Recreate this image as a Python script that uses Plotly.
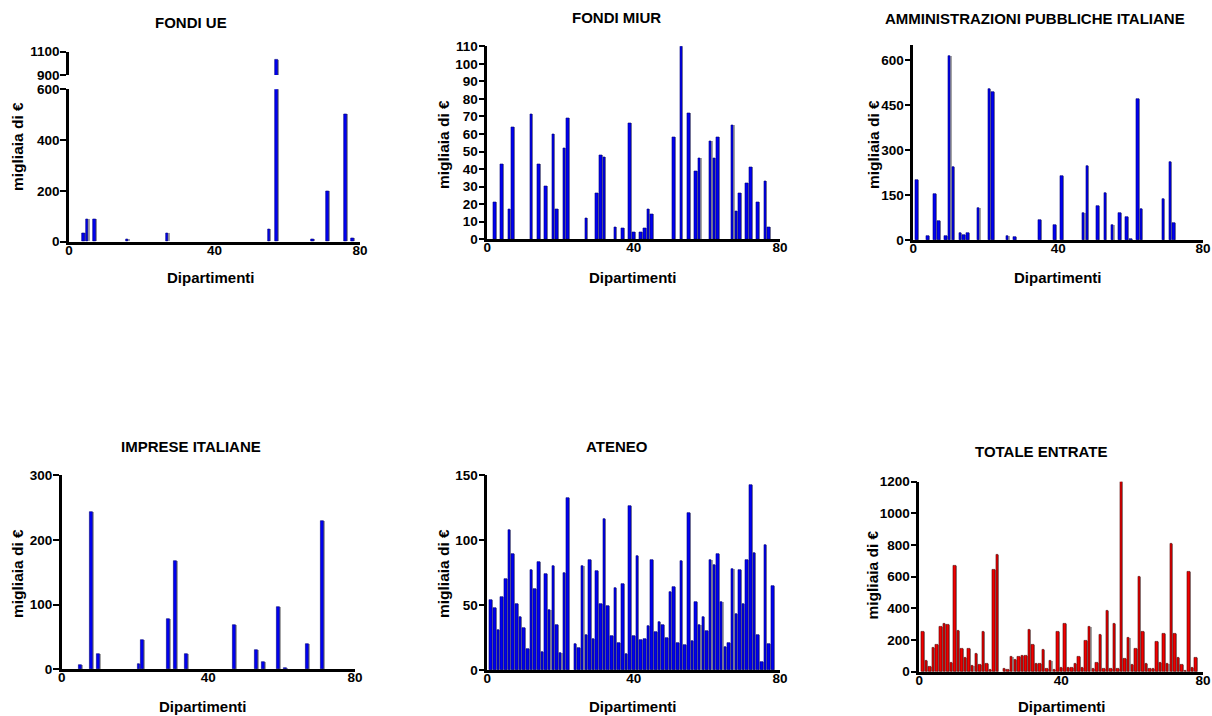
import plotly.graph_objects as go

# Department index (1..78)
departments = list(range(1, 79))

fondi_ue = [
    0, 0, 0, 33, 89, 0, 87, 0, 0, 0,
    0, 0, 0, 0, 0, 8, 0, 0, 0, 0,
    0, 0, 0, 0, 0, 0, 34, 0, 0, 0,
    0, 0, 0, 0, 0, 0, 0, 0, 0, 0,
    0, 0, 0, 0, 0, 0, 0, 0, 0, 0,
    0, 0, 0, 0, 47, 0, 1029, 0, 0, 0,
    0, 0, 0, 0, 0, 0, 9, 0, 0, 0,
    199, 0, 0, 0, 0, 500, 0, 14,
]

fondi_miur = [
    0, 21, 0, 43, 0, 17, 64, 0, 0, 0,
    0, 71, 0, 43, 0, 30, 0, 60, 17, 0,
    52, 69, 0, 0, 0, 0, 12, 0, 0, 26,
    48, 47, 0, 0, 7, 0, 6, 0, 66, 4,
    0, 4, 6, 17, 14, 0, 0, 0, 0, 0,
    58, 0, 110, 0, 72, 0, 39, 46, 0, 0,
    56, 46, 58, 0, 0, 0, 65, 16, 26, 0,
    32, 41, 0, 21, 0, 33, 7, 0,
]

amministrazioni = [
    201, 0, 0, 13, 0, 152, 64, 0, 13, 614,
    243, 0, 24, 18, 22, 0, 0, 107, 0, 0,
    502, 493, 0, 0, 0, 13, 0, 9, 0, 0,
    0, 0, 0, 0, 68, 0, 0, 0, 49, 0,
    213, 0, 0, 0, 0, 0, 89, 248, 0, 0,
    113, 0, 157, 0, 49, 0, 89, 0, 78, 2,
    0, 470, 104, 0, 0, 0, 0, 0, 138, 0,
    260, 58, 0, 0, 0, 0, 0, 0,
]

imprese = [
    0, 0, 0, 0, 7, 0, 0, 243, 0, 24,
    0, 0, 0, 0, 0, 0, 0, 0, 0, 0,
    8, 46, 0, 0, 0, 0, 0, 0, 77, 0,
    167, 0, 0, 24, 0, 0, 0, 0, 0, 0,
    0, 0, 0, 0, 0, 0, 68, 0, 0, 0,
    0, 0, 30, 0, 12, 0, 0, 0, 96, 0,
    2, 0, 0, 0, 0, 0, 39, 0, 0, 0,
    229, 0, 0, 0, 0, 0, 0, 0,
]

ateneo = [
    54, 48, 31, 56, 70, 108, 89, 51, 41, 32,
    16, 77, 62, 83, 14, 74, 46, 80, 35, 13,
    75, 132, 0, 20, 17, 80, 27, 85, 24, 76,
    51, 116, 49, 26, 63, 21, 66, 12, 126, 26,
    88, 23, 24, 34, 85, 29, 37, 35, 25, 60,
    64, 21, 84, 19, 121, 22, 52, 35, 41, 30,
    85, 81, 89, 52, 18, 21, 78, 43, 77, 51,
    85, 142, 90, 27, 6, 96, 20, 65,
]

totale_entrate = [
    255, 67, 30, 150, 172, 285, 305, 297, 55, 672,
    260, 148, 88, 147, 37, 113, 47, 250, 52, 12,
    642, 742, 0, 18, 15, 97, 73, 95, 102, 102,
    268, 173, 52, 52, 140, 20, 72, 10, 253, 28,
    302, 28, 28, 50, 97, 28, 196, 283, 22, 58,
    235, 18, 387, 18, 304, 22, 1205, 82, 217, 46,
    145, 598, 252, 50, 18, 20, 192, 58, 242, 50,
    808, 242, 90, 47, 6, 630, 25, 88,
]

x_ticks = [0, 40, 80]
x_ticktext = ["0", "40", "80"]

W, H = 1212, 716
FONT = "Liberation Sans, Arial, Helvetica, sans-serif"

BLUE, BLUE_EDGE = "#0000f2", "#00007a"
RED, RED_EDGE = "#f00000", "#500000"
SHADOW = "#a4a4a4"
BAR_W = 0.7


def fx(px):
    return min(1.0, px / W)


def fy(py):
    return 1 - py / H


fig = go.Figure()


def add_bars(values, xa, ya, color, edge):
    # departments with no funding get no bar at all
    shown = [v if v else None for v in values]
    # light grey shadow offset to the right, then the coloured bar
    fig.add_trace(go.Bar(
        x=departments, y=shown, xaxis=xa, yaxis=ya,
        width=BAR_W, offset=-BAR_W / 2 + 0.3,
        marker=dict(color=SHADOW, line=dict(width=0)),
        hoverinfo="skip", showlegend=False,
    ))
    fig.add_trace(go.Bar(
        x=departments, y=shown, xaxis=xa, yaxis=ya,
        width=BAR_W, offset=-BAR_W / 2,
        marker=dict(color=color, line=dict(color=edge, width=0.6)),
        showlegend=False,
    ))


add_bars(fondi_ue, "x", "y", BLUE, BLUE_EDGE)
add_bars(fondi_ue, "x", "y2", BLUE, BLUE_EDGE)
add_bars(fondi_miur, "x2", "y3", BLUE, BLUE_EDGE)
add_bars(amministrazioni, "x3", "y4", BLUE, BLUE_EDGE)
add_bars(imprese, "x4", "y5", BLUE, BLUE_EDGE)
add_bars(ateneo, "x5", "y6", BLUE, BLUE_EDGE)
add_bars(totale_entrate, "x6", "y7", RED, RED_EDGE)

tickfont = dict(family=FONT, size=13.5, color="black", weight="bold")


def xaxis(x0, x1, anchor):
    return dict(
        domain=[fx(x0), fx(x1)], anchor=anchor, range=[0, 80],
        tickvals=x_ticks, ticktext=x_ticktext, ticks="",
        ticklabelstandoff=-6, automargin=False, ticklabeloverflow="allow",
        showline=True, linewidth=2.5, linecolor="black",
        showgrid=False, zeroline=False, tickfont=tickfont,
    )


def yaxis(top, bottom, anchor, rng, tickvals):
    return dict(
        domain=[fy(bottom), fy(top)], anchor=anchor, range=rng,
        tickvals=tickvals, ticks="outside", ticklen=6, tickwidth=2.2,
        tickcolor="black", ticklabelstandoff=-2, automargin=False,
        ticklabeloverflow="allow",
        showline=True, linewidth=2.5, linecolor="black",
        showgrid=False, zeroline=False, tickfont=tickfont,
    )


layout = dict(
    width=W, height=H, autosize=False,
    margin=dict(l=0, r=0, t=0, b=0, pad=0, autoexpand=False),
    paper_bgcolor="white", plot_bgcolor="white",
    barmode="overlay", bargap=0,
    font=dict(family=FONT, color="black"),
    # FONDI UE (broken axis)
    xaxis=xaxis(69, 360, "y"),
    yaxis=yaxis(89.3, 241.7, "x", [0, 600], [0, 200, 400, 600]),
    yaxis2=yaxis(51.7, 75, "x", [900, 1100], [900, 1100]),
    # FONDI MIUR
    xaxis2=xaxis(487.3, 780, "y3"),
    yaxis3=yaxis(46.3, 239.3, "x2", [0, 110], list(range(0, 111, 10))),
    # AMMINISTRAZIONI PUBBLICHE ITALIANE
    xaxis3=xaxis(913.3, 1203, "y4"),
    yaxis4=yaxis(45, 240, "x3", [0, 650], [0, 150, 300, 450, 600]),
    # IMPRESE ITALIANE
    xaxis4=xaxis(61.7, 355, "y5"),
    yaxis5=yaxis(475, 669.3, "x4", [0, 300], [0, 100, 200, 300]),
    # ATENEO
    xaxis5=xaxis(487.3, 780, "y6"),
    yaxis6=yaxis(475, 670, "x5", [0, 150], [0, 50, 100, 150]),
    # TOTALE ENTRATE
    xaxis6=xaxis(919.3, 1203, "y7"),
    yaxis7=yaxis(481.7, 671.7, "x6", [0, 1200], list(range(0, 1201, 200))),
)
fig.update_layout(**layout)

label_font = dict(family=FONT, size=15, color="black", weight="bold")

panel_titles = [
    ("FONDI UE", 191, 23),
    ("FONDI MIUR", 616.7, 17.5),
    ("AMMINISTRAZIONI PUBBLICHE ITALIANE", 1035, 18),
    ("IMPRESE ITALIANE", 191, 446.5),
    ("ATENEO", 616.7, 446.5),
    ("TOTALE ENTRATE", 1041.7, 451.5),
]
x_titles = [(211, 277), (633, 277), (1058, 277),
            (203, 706.5), (633, 706.5), (1061.7, 706.5)]
y_titles = [(17, 147), (443, 145), (873, 145),
            (17, 574), (443, 574), (872, 575.5)]

annotations = []
for text, cx, cy in panel_titles:
    annotations.append(dict(text=text, x=fx(cx), y=fy(cy), xref="paper", yref="paper",
                            xanchor="center", yanchor="middle", showarrow=False,
                            font=label_font))
for cx, cy in x_titles:
    annotations.append(dict(text="Dipartimenti", x=fx(cx), y=fy(cy), xref="paper",
                            yref="paper", xanchor="center", yanchor="middle",
                            showarrow=False, font=label_font))
for cx, cy in y_titles:
    annotations.append(dict(text="migliaia di €", x=fx(cx), y=fy(cy), xref="paper",
                            yref="paper", xanchor="center", yanchor="middle",
                            showarrow=False, textangle=-90,
                            font=dict(family=FONT, size=15.5, color="black", weight="bold")))
fig.update_layout(annotations=annotations)

fig.write_html("out.html")
